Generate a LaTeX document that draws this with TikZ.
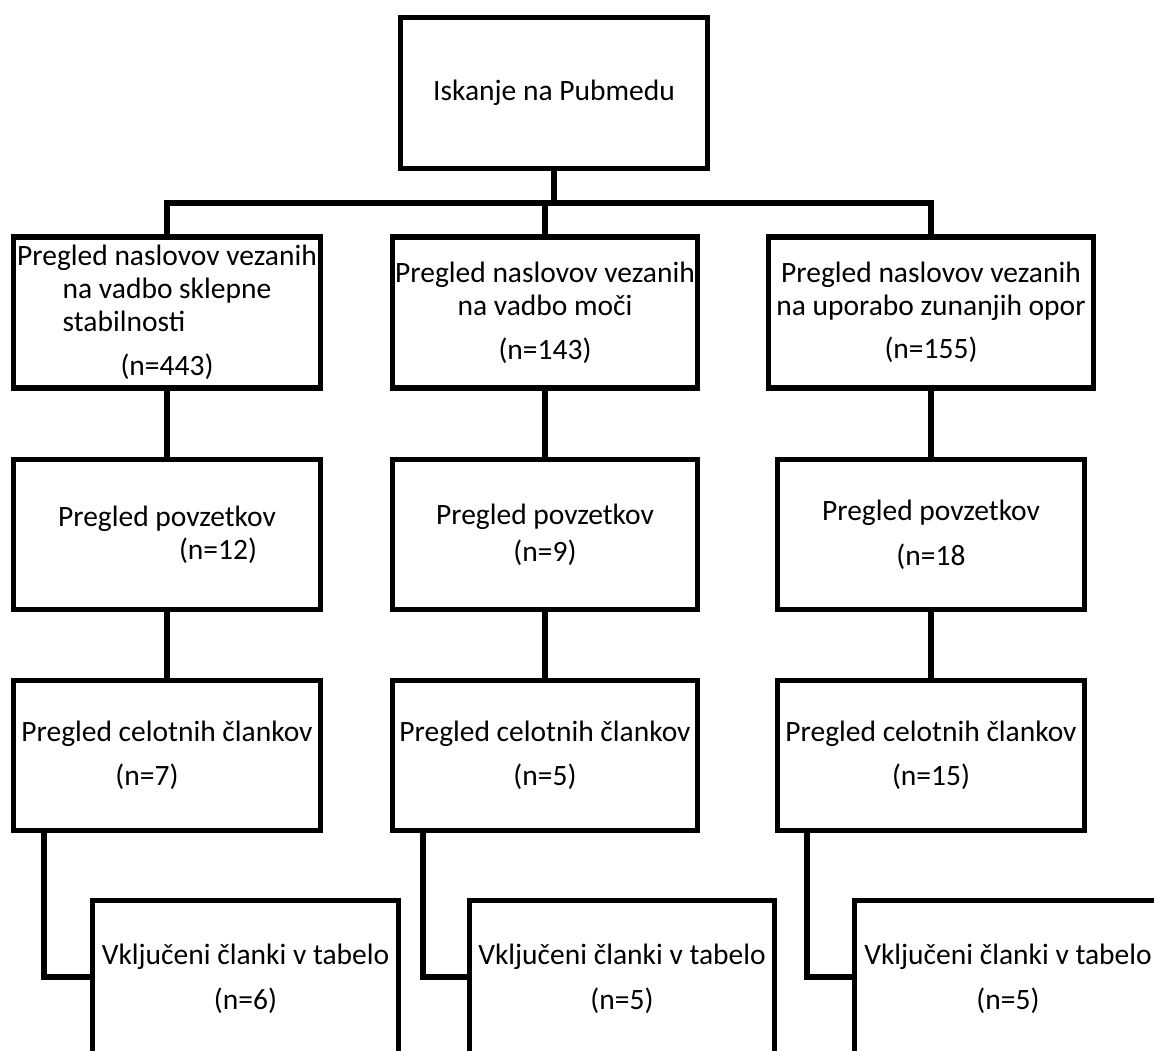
\documentclass[tikz,border=0pt]{standalone}
\usepackage{fontspec}
\setmainfont{Carlito}
\usetikzlibrary{calc}
\tikzset{
  box/.style={draw, line width=5.5pt, inner sep=0pt, align=center,
    font=\fontsize{29.5}{33}\selectfont, minimum height=151pt},
  conn/.style={draw, line width=5.5pt}
}
\begin{document}
\begin{tikzpicture}[x=1pt,y=-1pt]
\useasboundingbox (0,0) rectangle (1154,1050);
\clip (0,0) rectangle (1154,1050);
% top
\node[box, minimum width=307pt] (top) at (554,93) {Iskanje na Pubmedu};
% level 1
\node[box, minimum width=307pt] (l1a) at (167,312.5)
  {Pregled naslovov vezanih\\na vadbo sklepne\\\rlap{stabilnosti}\phantom{na vadbo sklepne}\\[11pt](n=443)};
\node[box, minimum width=305pt] (l1b) at (545,312.5)
  {Pregled naslovov vezanih\\na vadbo moči\\[11pt](n=143)};
\node[box, minimum width=325pt] (l1c) at (931,312.5)
  {Pregled naslovov vezanih\\na uporabo zunanjih opor\\[10pt](n=155)};
% level 2
\node[box, minimum width=307pt, minimum height=150pt] (l2a) at (167,534.5)
  {Pregled povzetkov\\\rule{102pt}{0pt}(n=12)};
\node[box, minimum width=305pt, minimum height=150pt] (l2b) at (545,534.5)
  {Pregled povzetkov\\[4pt](n=9)};
\node[box, minimum width=307pt, minimum height=150pt] (l2c) at (931,534.5)
  {Pregled povzetkov\\[12pt](n=18};
% level 3
\node[box, minimum width=307pt, minimum height=150pt] (l3a) at (167,755.5)
  {Pregled celotnih člankov\\[11pt](n=7)\rule{40pt}{0pt}};
\node[box, minimum width=305pt, minimum height=150pt] (l3b) at (545,755.5)
  {Pregled celotnih člankov\\[11pt](n=5)};
\node[box, minimum width=307pt, minimum height=150pt] (l3c) at (931,755.5)
  {Pregled celotnih člankov\\[11pt](n=15)};
% bottom
\node[box, minimum width=306pt, minimum height=156pt] (b1) at (245.5,978.5)
  {Vključeni članki v tabelo\\[12pt](n=6)};
\node[box, minimum width=305pt, minimum height=156pt] (b2) at (622,978.5)
  {Vključeni članki v tabelo\\[12pt](n=5)};
\node[box, minimum width=307pt, minimum height=156pt] (b3) at (1008,978.5)
  {Vključeni članki v tabelo\\[12pt](n=5)};
% connectors
\coordinate (bus) at (554,203);
\draw[conn] (top.south) -- (bus);
\draw[conn] (l1a.north) -- (l1a.north |- bus) -- (l1c.north |- bus) -- (l1c.north);
\draw[conn] (l1b.north) -- (l1b.north |- bus);
\draw[conn] (l1a.south) -- (l2a.north);
\draw[conn] (l1b.south) -- (l2b.north);
\draw[conn] (l1c.south) -- (l2c.north);
\draw[conn] (l2a.south) -- (l3a.north);
\draw[conn] (l2b.south) -- (l3b.north);
\draw[conn] (l2c.south) -- (l3c.north);
\coordinate (ja) at (44,977);
\coordinate (jb) at (423,977);
\coordinate (jc) at (807,977);
\draw[conn] (l3a.south -| ja) -- (ja) -- (ja -| b1.west);
\draw[conn] (l3b.south -| jb) -- (jb) -- (jb -| b2.west);
\draw[conn] (l3c.south -| jc) -- (jc) -- (jc -| b3.west);
\end{tikzpicture}
\end{document}
